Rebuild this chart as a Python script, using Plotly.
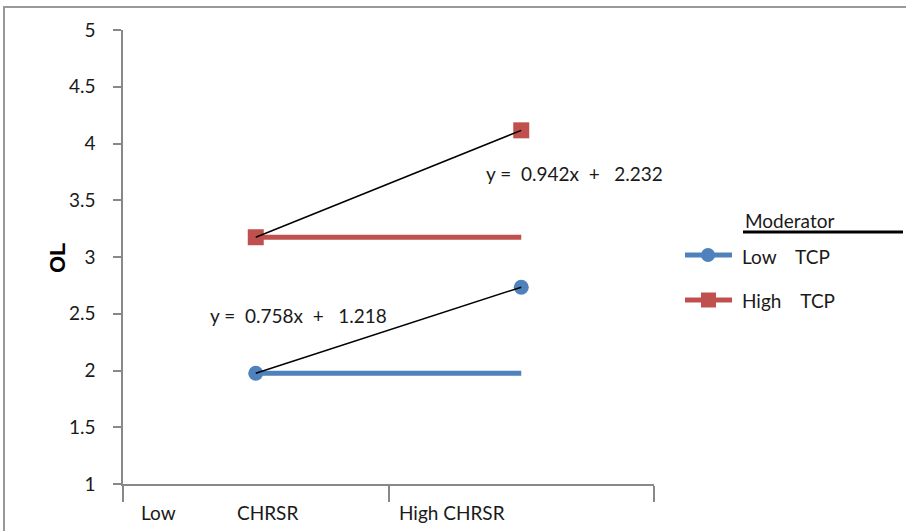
import plotly.graph_objects as go

categories = ["Low          CHRSR", "High CHRSR"]
x_pos = [1, 2]
low_tcp = [1.976, 2.734]
high_tcp = [3.174, 4.116]
eq_low = "y =  0.758x  +   1.218"
eq_high = "y =  0.942x  +   2.232"
series_names = ["Low    TCP", "High    TCP"]
legend_title = "Moderator"
y_title = "OL"
y_ticks = [1, 1.5, 2, 2.5, 3, 3.5, 4, 4.5, 5]

BLUE = "#4F81BD"
RED = "#C0504D"
AX = "#888888"
FONT = "Lato"
TXT = "#1a1a1a"

# plot area in pixels
L, R, T, B = 123, 654, 30, 484


def px(xp):
    return (xp - L) / (R - L)


def py(yp):
    return (B - yp) / (B - T)


fig = go.Figure()

# horizontal series lines
fig.add_trace(go.Scatter(x=x_pos, y=[low_tcp[0]] * 2, mode="lines",
                         line=dict(color=BLUE, width=5), showlegend=False, hoverinfo="skip"))
fig.add_trace(go.Scatter(x=x_pos, y=[high_tcp[0]] * 2, mode="lines",
                         line=dict(color=RED, width=5), showlegend=False, hoverinfo="skip"))
# markers
fig.add_trace(go.Scatter(x=x_pos, y=low_tcp, mode="markers", name=series_names[0],
                         marker=dict(symbol="circle", size=15, color=BLUE),
                         showlegend=False))
fig.add_trace(go.Scatter(x=x_pos, y=high_tcp, mode="markers", name=series_names[1],
                         marker=dict(symbol="square", size=16, color=RED),
                         showlegend=False))
# trend lines
fig.add_trace(go.Scatter(x=x_pos, y=low_tcp, mode="lines",
                         line=dict(color="black", width=1.5), showlegend=False))
fig.add_trace(go.Scatter(x=x_pos, y=high_tcp, mode="lines",
                         line=dict(color="black", width=1.5), showlegend=False))


def txt(x, y, s, size=19, anchor="left"):
    return dict(x=x, y=y, xref="paper", yref="paper", text=s, showarrow=False,
                xanchor=anchor, yanchor="middle", font=dict(family=FONT, size=size, color=TXT))


annotations = [
    txt(px(139), py(512), "Low"),
    txt(px(235), py(512), "CHRSR"),
    txt(px(397), py(512), categories[1]),
    txt(px(298), py(315), eq_low, anchor="center"),
    txt(px(574), py(173), eq_high, anchor="center"),
    txt(px(743), py(220), legend_title),
    txt(px(740), py(256), series_names[0]),
    txt(px(740), py(300), series_names[1]),
    dict(x=px(57), y=py(258), xref="paper", yref="paper", text="<b>" + y_title + "</b>",
         showarrow=False, textangle=-90, xanchor="center", yanchor="middle",
         font=dict(family="Liberation Sans", size=22, color="black")),
]

shapes = [
    # outer border
    dict(type="rect", xref="paper", yref="paper", x0=px(4), x1=1.7,
         y0=-0.3, y1=py(7), line=dict(color="#999999", width=2)),
    # legend title underline
    dict(type="line", xref="paper", yref="paper", x0=px(743), x1=px(903),
         y0=py(232), y1=py(232), line=dict(color="black", width=3)),
    # legend samples
    dict(type="line", xref="paper", yref="paper", x0=px(685), x1=px(732),
         y0=py(255), y1=py(255), line=dict(color=BLUE, width=5)),
    dict(type="circle", xref="paper", yref="paper", x0=px(701), x1=px(715),
         y0=py(262), y1=py(248), fillcolor=BLUE, line=dict(width=0)),
    dict(type="line", xref="paper", yref="paper", x0=px(685), x1=px(732),
         y0=py(300), y1=py(300), line=dict(color=RED, width=5)),
    dict(type="rect", xref="paper", yref="paper", x0=px(701), x1=px(716),
         y0=py(307.5), y1=py(292.5), fillcolor=RED, line=dict(width=0)),
]

fig.update_layout(
    width=906, height=531,
    margin=dict(l=L, r=906 - R, t=T, b=531 - B),
    plot_bgcolor="white", paper_bgcolor="white",
    font=dict(family=FONT, size=19, color=TXT),
    showlegend=False,
    xaxis=dict(range=[0.5, 2.5], tickvals=[0.5, 1.5, 2.5], showticklabels=False,
               ticks="outside", ticklen=16, tickcolor=AX, tickwidth=1.5,
               showline=True, linecolor=AX, linewidth=1.5, showgrid=False, zeroline=False),
    yaxis=dict(range=[1, 5], tickvals=y_ticks, ticktext=[f"{v:g}" for v in y_ticks],
               ticks="outside", ticklen=8, tickcolor=AX, tickwidth=1.5, ticklabelstandoff=14,
               showline=True, linecolor=AX, linewidth=1.5, showgrid=False, zeroline=False,
               tickfont=dict(family=FONT, size=19, color=TXT)),
    annotations=annotations,
    shapes=shapes,
)

fig.write_html("out.html")
